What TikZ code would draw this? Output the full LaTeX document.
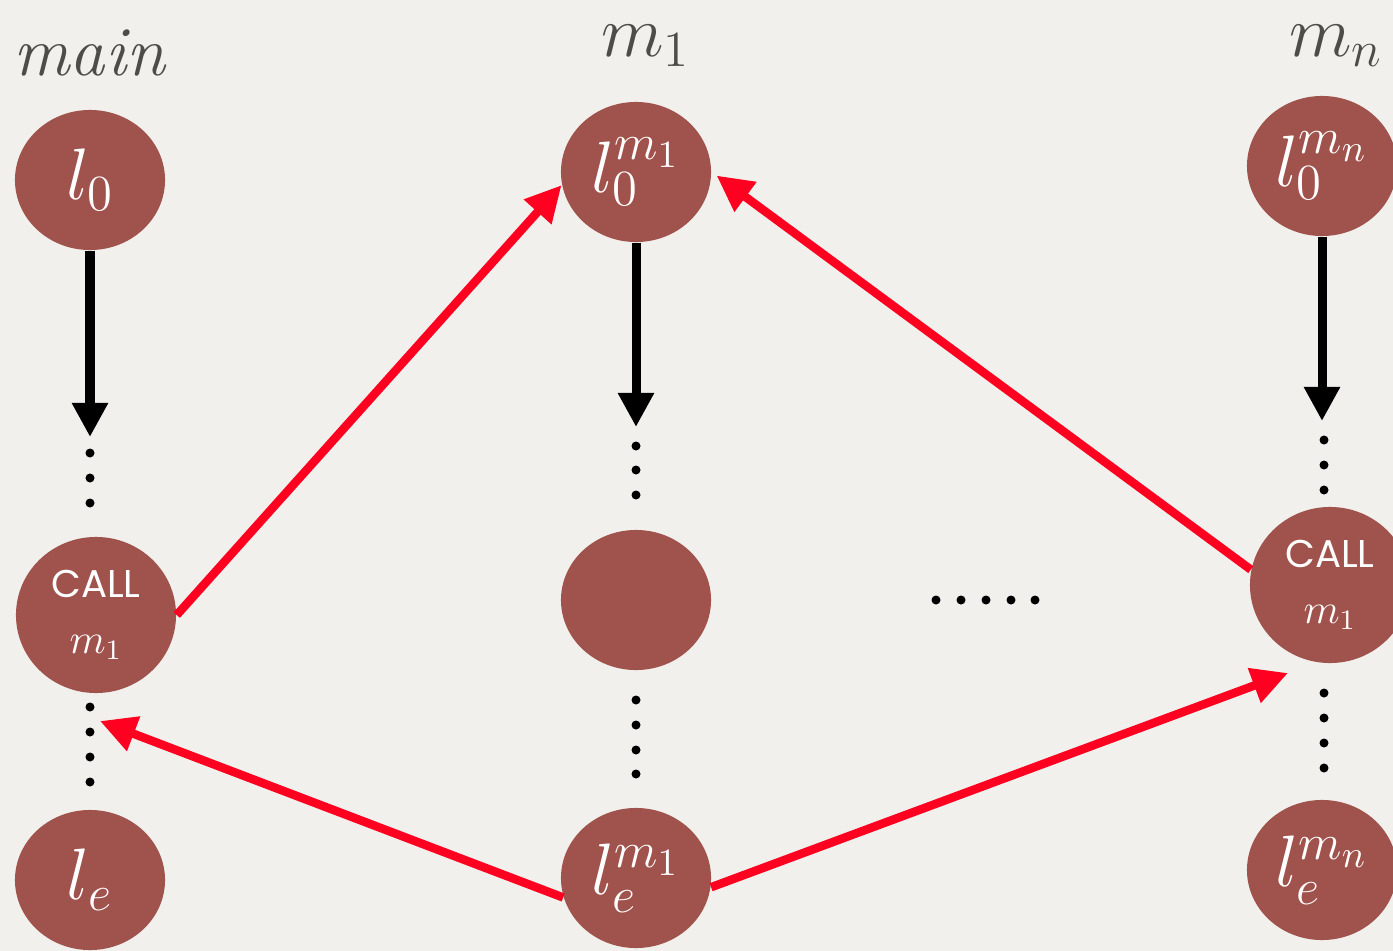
\documentclass[tikz,border=0pt]{standalone}
\usepackage{fontspec}
\usepackage{tikz}
\usetikzlibrary{arrows.meta}
\usetikzlibrary{shapes.geometric}
\newfontfamily\callfont{Poppins}
\definecolor{paper}{RGB}{241,240,236}
\definecolor{locred}{RGB}{160,82,76}
\definecolor{jumpred}{RGB}{255,0,32}
\definecolor{labelgrey}{RGB}{78,76,72}

\begin{document}
\begin{tikzpicture}[x=0.01cm, y=-0.01cm,
    loc/.style={ellipse, fill=locred, text=white, inner sep=0pt, minimum width=1.5cm, minimum height=1.4cm, font=\fontsize{21}{24}\selectfont},
    callloc/.style={loc, minimum width=1.6cm, minimum height=1.56cm, align=center, font=\fontsize{12}{16}\selectfont},
    title/.style={text=labelgrey, inner sep=0pt, font=\fontsize{20}{24}\selectfont},
    flow/.style={line width=0.09cm, -{Triangle[length=0.34cm,width=0.34cm]}},
    jump/.style={draw=jumpred, line width=0.085cm, -{Triangle[length=0.36cm,width=0.35cm]}}]
    \useasboundingbox[fill=paper] (0,0) rectangle (1393,951);

    % column titles
    \node (tmain) [title, anchor=base] at (90,75) {\textit{main}};
    \node (tone)  [title, anchor=base] at (646,56) {$m_1$};
    \node (tn)    [title, anchor=base] at (1336,56) {$m_n$};

    % main
    \node (ml0)   [loc] at (90,180) {$l_0$};
    \node (mcall) [callloc] at (96,615) {{\fontsize{11}{13}\selectfont\callfont CALL}\\$m_1$};
    \node (mle)   [loc] at (90,880) {$l_e$};
    % m_1
    \node (al0)  [loc] at (636,172) {$l_0^{m_1}$};
    \node (amid) [loc] at (636,600) {};
    \node (ale)  [loc] at (636,878) {$l_e^{m_1}$};
    % m_n
    \node (nl0)   [loc] at (1322,166) {$l_0^{m_n}$};
    \node (ncall) [callloc] at (1330,585) {{\fontsize{11}{13}\selectfont\callfont CALL}\\$m_1$};
    \node (nle)   [loc] at (1322,870) {$l_e^{m_n}$};

    \coordinate (mdots) at (90,437);
    \coordinate (adots) at (636,427);
    \coordinate (ndots) at (1322,421);
    \coordinate (mret)  at (100,721);
    \coordinate (nret)  at (1288,673);

    % dots
    \foreach \y in {453,478,503} \fill (90,\y) circle (0.045cm);
    \foreach \y in {707,732,757,782} \fill (90,\y) circle (0.045cm);
    \foreach \y in {446,470,495} \fill (636,\y) circle (0.045cm);
    \foreach \y in {700,725,750,774} \fill (636,\y) circle (0.045cm);
    \foreach \y in {440,465,490} \fill (1324,\y) circle (0.045cm);
    \foreach \y in {693,718,743,768} \fill (1324,\y) circle (0.045cm);
    \foreach \x in {936,961,986,1011,1035} \fill (\x,600) circle (0.045cm);

    \draw[flow] (ml0) -- (mdots);
    \draw[flow] (al0) -- (adots);
    \draw[flow] (nl0) -- (ndots);

    \draw[jump] (mcall.east) -- (al0.190);
    \draw[jump, shorten >=0.06cm] (ncall.169) -- (al0.east);
    \draw[jump] (ale.195) -- (mret);
    \draw[jump] (ale.353) -- (nret);
\end{tikzpicture}
\end{document}
